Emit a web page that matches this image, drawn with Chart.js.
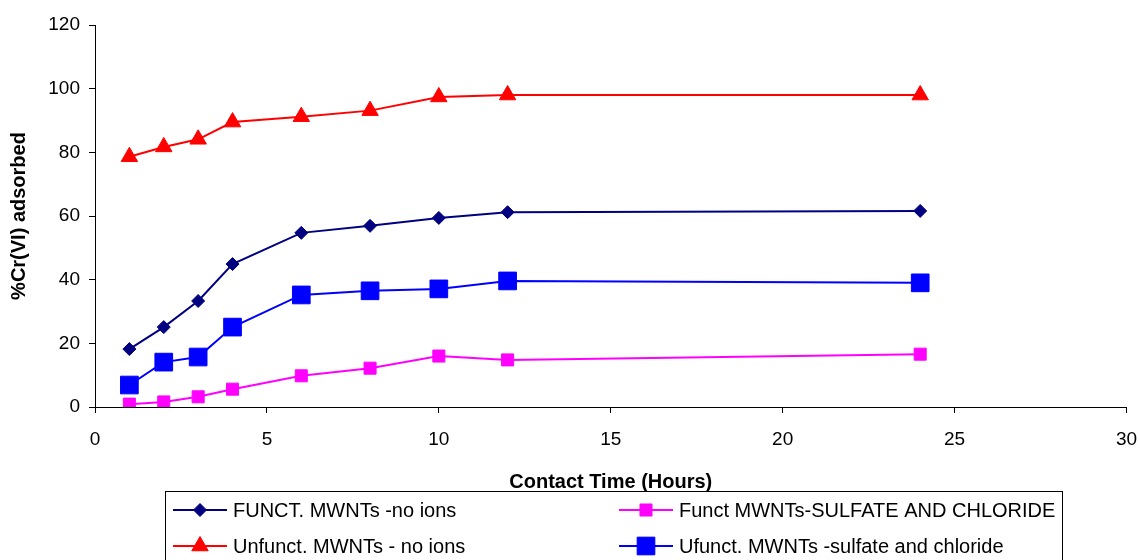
<!DOCTYPE html>
<html>
<head>
<meta charset="utf-8">
<title>%Cr(VI) adsorbed vs contact time</title>
<script src="https://cdn.jsdelivr.net/npm/chart.js@4.4.0/dist/chart.umd.min.js"></script>
<style>
  html, body { margin: 0; padding: 0; background: #fff; }
  #wrap { width: 1140px; height: 560px; }
</style>
</head>
<body>
<div id="wrap"><canvas id="chart" width="1140" height="560"></canvas></div>
<script>
// Cr(VI) adsorption on MWNTs vs contact time

const hours = [1, 2, 3, 4, 6, 8, 10, 12, 24];
const functNoIons   = [18.2, 25.1, 33.3, 44.9, 54.7, 56.9, 59.4, 61.2, 61.6];
const functSulfate  = [0.9, 1.6, 3.2, 5.6, 9.8, 12.2, 16.0, 14.8, 16.6];
const unfunctNoIons = [78.6, 81.7, 84.1, 89.5, 91.2, 93.1, 97.4, 98.0, 98.0];
const ufunctSulfate = [6.9, 14.1, 15.7, 25.1, 35.2, 36.5, 37.1, 39.6, 39.0];

const xTicks = [0, 5, 10, 15, 20, 25, 30];
const yTicks = [0, 20, 40, 60, 80, 100, 120];

const FONT = "'Liberation Sans', Arial, sans-serif";

const toPoints = (ys) => hours.map((h, i) => ({ x: h, y: ys[i] }));

function series(label, ys, color, style, radius) {
  return {
    label,
    data: toPoints(ys),
    borderColor: color,
    backgroundColor: color,
    borderWidth: 2,
    pointStyle: style,
    pointRadius: radius,
    pointHoverRadius: radius,
    pointBackgroundColor: color,
    pointBorderColor: color,
    pointBorderWidth: 1,
    tension: 0,
    fill: false,
  };
}

// boxed two-column legend under the x axis title
const boxedLegend = {
  id: 'boxedLegend',
  afterDraw(chart) {
    const ctx = chart.ctx;
    const box = { left: 165, top: 491, right: 1062, bottom: 575 };
    const cols = [173, 619];
    const rows = [510, 546];
    ctx.save();
    ctx.strokeStyle = '#000';
    ctx.lineWidth = 1;
    ctx.strokeRect(box.left + 0.5, box.top + 0.5, box.right - box.left, box.bottom - box.top);
    ctx.font = '20px ' + FONT;
    ctx.textBaseline = 'middle';
    ctx.textAlign = 'left';
    chart.data.datasets.forEach((ds, i) => {
      const x = cols[i % 2];
      const y = rows[Math.floor(i / 2)];
      ctx.strokeStyle = ds.borderColor;
      ctx.lineWidth = 2;
      ctx.beginPath();
      ctx.moveTo(x, y);
      ctx.lineTo(x + 54, y);
      ctx.stroke();
      ctx.fillStyle = ds.pointBackgroundColor;
      ctx.strokeStyle = ds.pointBorderColor;
      ctx.lineWidth = 1;
      Chart.helpers.drawPoint(ctx, {
        pointStyle: ds.pointStyle, radius: ds.pointRadius, rotation: 0, borderWidth: 1
      }, x + 27, y);
      ctx.fillStyle = '#000';
      ctx.fillText(ds.label, x + 60, y + 1);
    });
    ctx.restore();
  }
};

new Chart(document.getElementById('chart'), {
  type: 'line',
  data: {
    datasets: [
      series('FUNCT. MWNTs -no ions', functNoIons, '#000080', 'rectRot', 6.5),
      series('Funct MWNTs-SULFATE AND CHLORIDE', functSulfate, '#FF00FF', 'rect', 8.5),
      series('Unfunct. MWNTs - no ions', unfunctNoIons, '#FF0000', 'triangle', 9.5),
      series('Ufunct. MWNTs -sulfate and chloride', ufunctSulfate, '#0000FF', 'rect', 12.5),
    ]
  },
  options: {
    responsive: false,
    animation: false,
    layout: { padding: { left: 0, right: 2, top: 25, bottom: 66 } },
    plugins: { legend: { display: false }, tooltip: { enabled: false } },
    scales: {
      x: {
        type: 'linear',
        min: 0, max: 30,
        afterBuildTicks: (s) => { s.ticks = xTicks.map(v => ({ value: v })); },
        afterFit: (s) => { s.height = 87; s.paddingRight = 12; },
        grid: { drawOnChartArea: false, drawTicks: true, tickLength: 6, color: '#000' },
        border: { display: true, color: '#000', width: 1 },
        ticks: { color: '#000', font: { family: FONT, size: 19 }, padding: 15, maxRotation: 0 },
        title: {
          display: true, text: 'Contact Time (Hours)', color: '#000',
          font: { family: FONT, size: 20, weight: 'bold' }, padding: { top: 0, bottom: 0 }
        }
      },
      y: {
        min: 0, max: 120,
        afterBuildTicks: (s) => { s.ticks = yTicks.map(v => ({ value: v })); },
        afterFit: (s) => { s.width = 95; },
        grid: { drawOnChartArea: false, drawTicks: true, tickLength: 6, color: '#000' },
        border: { display: true, color: '#000', width: 1 },
        ticks: { color: '#000', font: { family: FONT, size: 19 }, padding: 9 },
        title: {
          display: true, text: '%Cr(VI) adsorbed', color: '#000',
          font: { family: FONT, size: 20, weight: 'bold' }, padding: { top: 7, bottom: 0 }
        }
      }
    }
  },
  plugins: [boxedLegend]
});
</script>
</body>
</html>
